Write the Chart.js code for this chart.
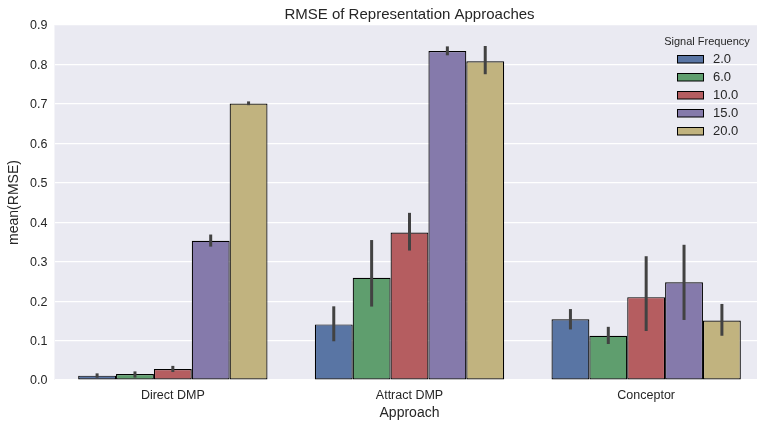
<!DOCTYPE html>
<html>
<head>
<meta charset="utf-8">
<script src="https://cdn.jsdelivr.net/npm/chart.js@4"></script>
<style>
  html, body { margin: 0; padding: 0; background: #fff; overflow: hidden; }
  canvas { display: block; }
</style>
</head>
<body>
<canvas id="rmseChart" width="770" height="422"></canvas>
<script>
const approaches = ['Direct DMP', 'Attract DMP', 'Conceptor'];
const frequencies = ['2.0', '6.0', '10.0', '15.0', '20.0'];

// mean RMSE per approach, one array per signal frequency
const rmse2 = [0.011, 0.141, 0.154];
const rmse6 = [0.015, 0.259, 0.112];
const rmse10 = [0.028, 0.374, 0.210];
const rmse15 = [0.353, 0.834, 0.248];
const rmse20 = [0.701, 0.808, 0.151];

// confidence interval bounds
const ciLow2 = [0.0095, 0.102, 0.132];
const ciHigh2 = [0.013, 0.183, 0.176];
const ciLow6 = [0.010, 0.190, 0.095];
const ciHigh6 = [0.018, 0.351, 0.131];
const ciLow10 = [0.024, 0.332, 0.128];
const ciHigh10 = [0.032, 0.420, 0.310];
const ciLow15 = [0.342, 0.827, 0.156];
const ciHigh15 = [0.365, 0.842, 0.339];
const ciLow20 = [0.7005, 0.779, 0.116];
const ciHigh20 = [0.7025, 0.843, 0.189];

const colors = ['#5975a4', '#5f9e6e', '#b55d60', '#857aab', '#c1b37f'];
const font = "'Liberation Sans', Arial, sans-serif";
const textColor = '#262626';

const means = [rmse2, rmse6, rmse10, rmse15, rmse20];
const lows = [ciLow2, ciLow6, ciLow10, ciLow15, ciLow20];
const highs = [ciHigh2, ciHigh6, ciHigh10, ciHigh15, ciHigh20];

const datasets = frequencies.map((f, i) => ({
  label: f,
  data: means[i],
  ciLow: lows[i],
  ciHigh: highs[i],
  backgroundColor: colors[i],
  borderColor: '#000',
  borderWidth: 1.2,
  borderSkipped: false,
  inflateAmount: 0,
  categoryPercentage: 0.8,
  barPercentage: 1.0
}));

// grey plot background
const plotBg = {
  id: 'plotBg',
  beforeDraw(chart) {
    const { ctx, chartArea: a } = chart;
    ctx.save();
    ctx.fillStyle = '#eaeaf2';
    ctx.fillRect(a.left, a.top, a.right - a.left, a.bottom - a.top);
    ctx.restore();
  }
};

// error bars on top of each bar
const errorBars = {
  id: 'errorBars',
  afterDatasetsDraw(chart) {
    const { ctx } = chart;
    const y = chart.scales.y;
    ctx.save();
    ctx.strokeStyle = '#424242';
    ctx.lineWidth = 3;
    ctx.lineCap = 'square';
    chart.data.datasets.forEach((ds, di) => {
      const meta = chart.getDatasetMeta(di);
      meta.data.forEach((bar, i) => {
        ctx.beginPath();
        ctx.moveTo(bar.x, y.getPixelForValue(ds.ciLow[i]));
        ctx.lineTo(bar.x, y.getPixelForValue(ds.ciHigh[i]));
        ctx.stroke();
      });
    });
    ctx.restore();
  }
};

// title centred over the plot area, plus the legend box
const decorations = {
  id: 'decorations',
  afterDraw(chart) {
    const { ctx, chartArea: a } = chart;
    ctx.save();
    ctx.fillStyle = textColor;
    ctx.textAlign = 'center';
    ctx.textBaseline = 'middle';
    ctx.font = `15px ${font}`;
    ctx.fillText('RMSE of Representation Approaches', (a.left + a.right) / 2, 15);

    ctx.font = `11px ${font}`;
    ctx.fillText('Signal Frequency', 707, 41.5);

    ctx.font = `13px ${font}`;
    ctx.textAlign = 'left';
    chart.data.datasets.forEach((ds, i) => {
      const cy = 59 + i * 18;
      ctx.fillStyle = ds.backgroundColor;
      ctx.fillRect(677.5, cy - 3.5, 26, 7.5);
      ctx.strokeStyle = '#000';
      ctx.lineWidth = 1;
      ctx.strokeRect(677.5, cy - 3.5, 26, 7.5);
      ctx.fillStyle = textColor;
      ctx.fillText(ds.label, 713, cy + 0.5);
    });
    ctx.restore();
  }
};

new Chart(document.getElementById('rmseChart'), {
  type: 'bar',
  data: { labels: approaches, datasets },
  options: {
    responsive: false,
    animation: false,
    devicePixelRatio: 1,
    layout: { padding: { top: 25, right: 5.5, left: 0, bottom: 0 } },
    plugins: {
      legend: { display: false },
      tooltip: { enabled: false }
    },
    scales: {
      x: {
        offset: true,
        grid: { display: false, drawTicks: false },
        border: { display: false },
        ticks: { color: textColor, font: { family: font, size: 12.5 }, padding: 8 },
        title: {
          display: true, text: 'Approach', color: textColor,
          font: { family: font, size: 14 }, padding: { top: 1.6, bottom: 0 }
        },
        afterFit(scale) { scale.height = 42; }
      },
      y: {
        min: 0,
        max: 0.9,
        grid: { color: '#ffffff', lineWidth: 1.2, drawTicks: false },
        border: { display: false },
        ticks: {
          stepSize: 0.1,
          color: textColor,
          font: { family: font, size: 12.5 },
          padding: 7,
          labelOffset: 1,
          callback: v => v.toFixed(1)
        },
        title: {
          display: true, text: 'mean(RMSE)', color: textColor,
          font: { family: font, size: 14 }, padding: { top: 5.6, bottom: 0 }
        },
        afterFit(scale) { scale.width = 54.5; }
      }
    }
  },
  plugins: [plotBg, errorBars, decorations]
});
</script>
</body>
</html>
